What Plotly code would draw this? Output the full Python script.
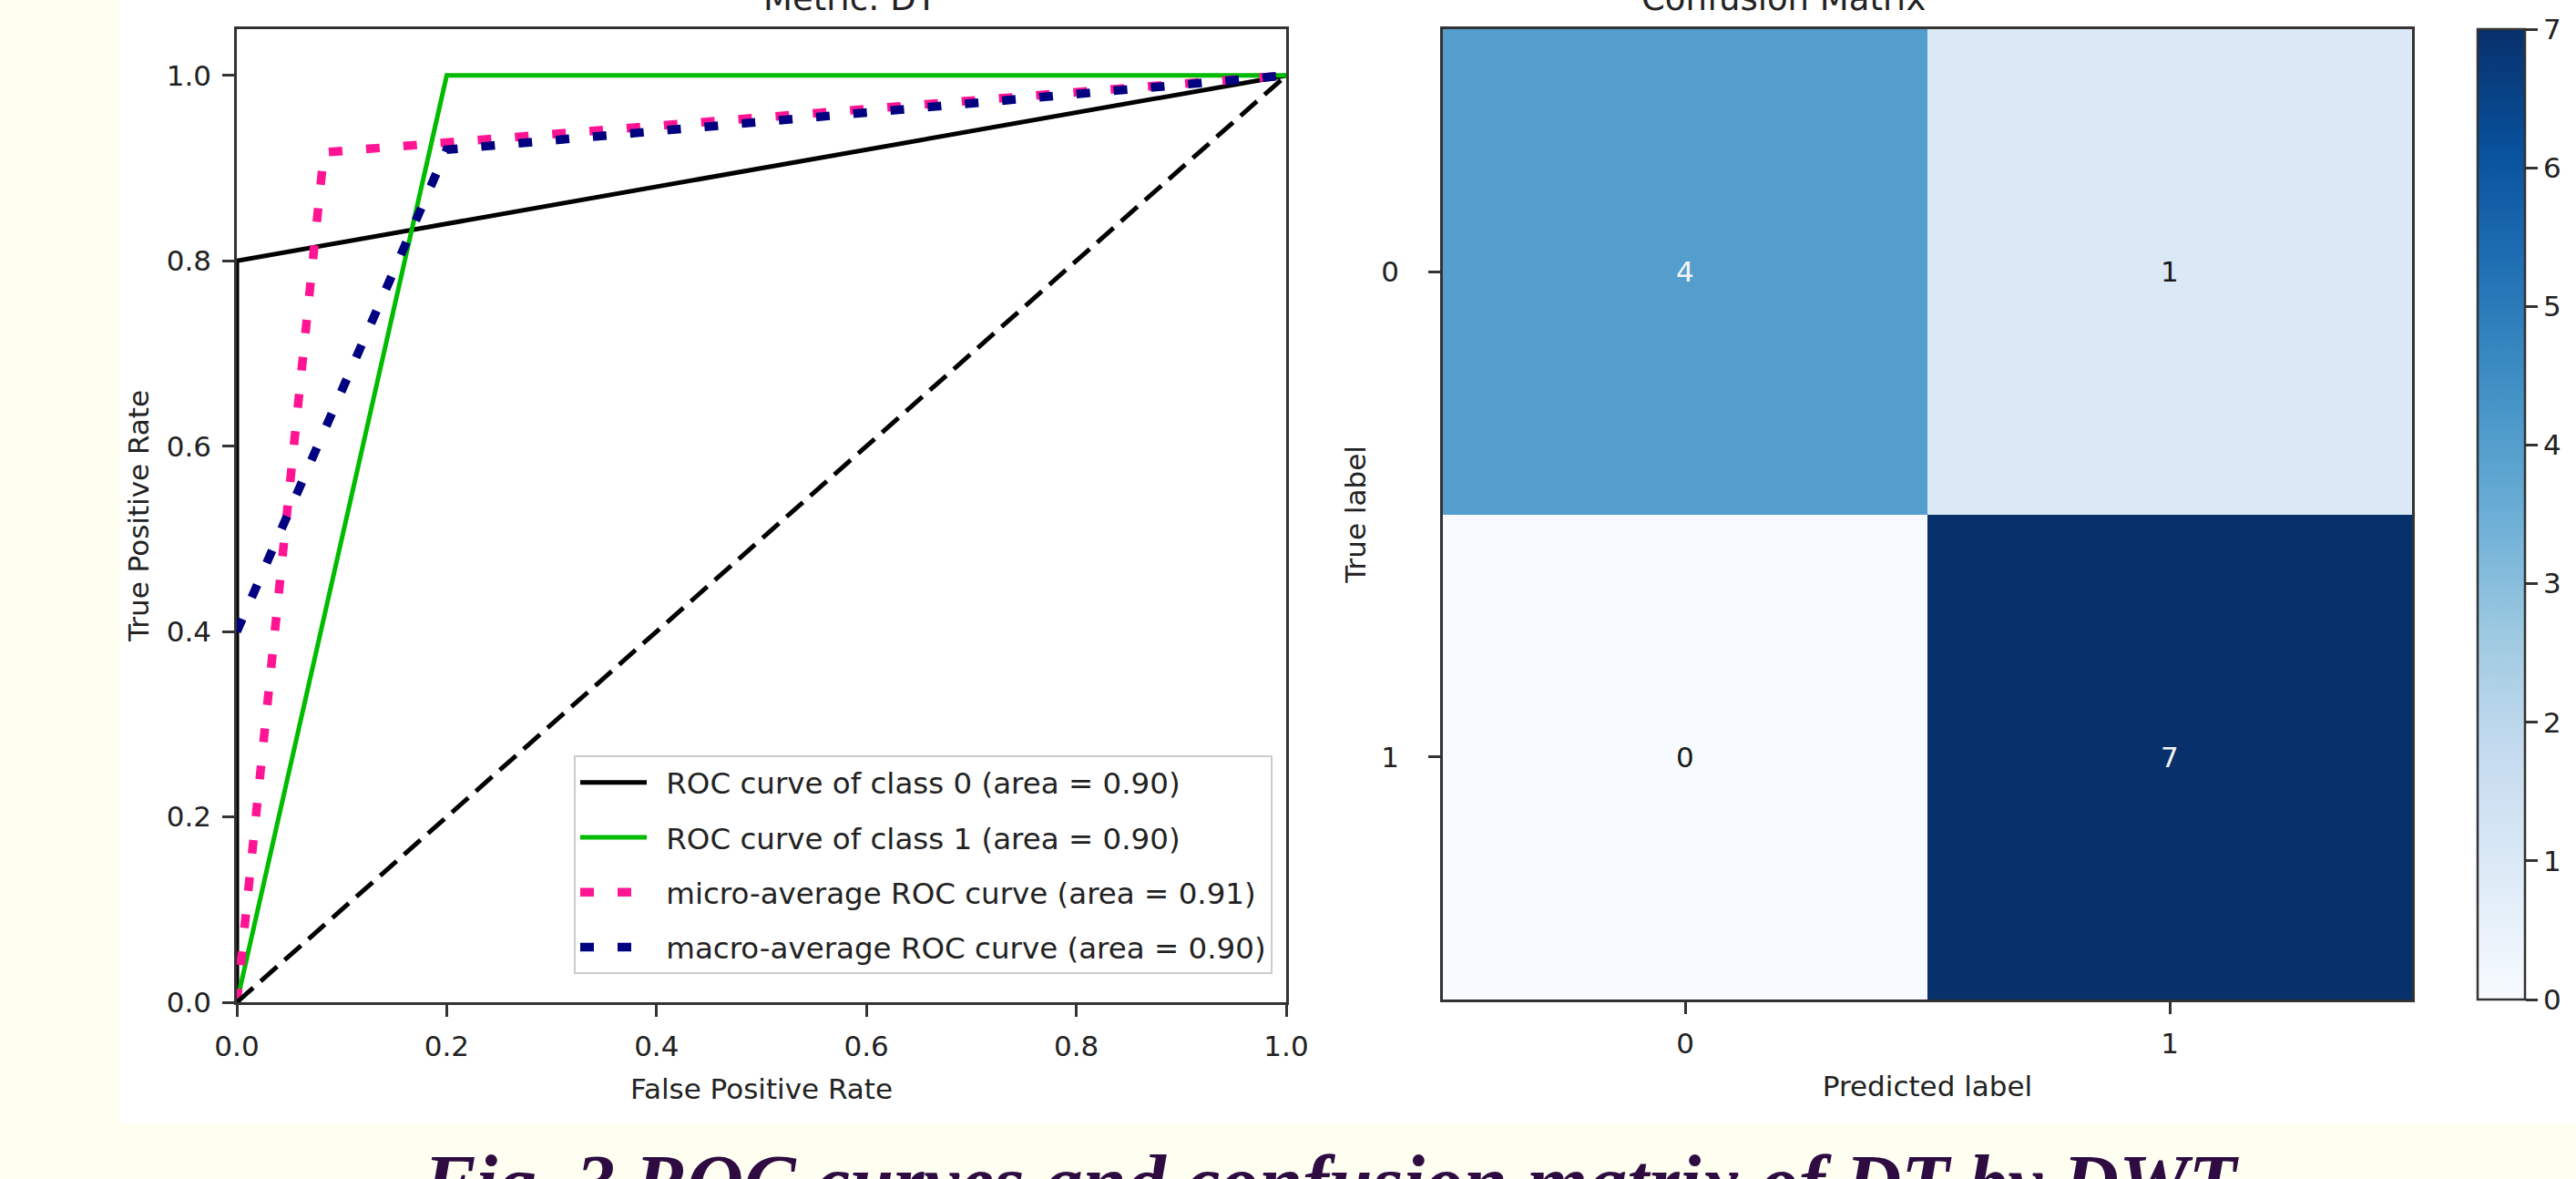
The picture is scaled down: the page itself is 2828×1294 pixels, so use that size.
import plotly.graph_objects as go

# ---------------- data ----------------
fpr_class0 = [0.0, 0.0, 1.0]
tpr_class0 = [0.0, 0.8, 1.0]
fpr_class1 = [0.0, 0.2, 1.0]
tpr_class1 = [0.0, 1.0, 1.0]
fpr_micro = [0.0, 0.083, 1.0]
tpr_micro = [0.0, 0.917, 1.0]
fpr_macro = [0.0, 0.2, 1.0]
tpr_macro = [0.4, 0.92, 1.0]
chance_x = [0.0, 1.0]
chance_y = [0.0, 1.0]

legend_names = [
    "ROC curve of class 0 (area = 0.90)",
    "ROC curve of class 1 (area = 0.90)",
    "micro-average ROC curve (area = 0.91)",
    "macro-average ROC curve (area = 0.90)",
]

roc_ticks = [0.0, 0.2, 0.4, 0.6, 0.8, 1.0]
roc_ticktext = ["0.0", "0.2", "0.4", "0.6", "0.8", "1.0"]

cm_values = [[4, 1], [0, 7]]
cm_labels = ["0", "1"]
cb_ticks = [0, 1, 2, 3, 4, 5, 6, 7]

# ---------------- geometry helpers ----------------
W, H = 2828, 1294
CREAM = "#fefef1"
GAP = "\u2002"  # small gap between legend symbol and its text


def px(x):
    return x / W


def py(y):
    return 1 - y / H


TICK_FONT = dict(family="DejaVu Sans", size=31, color="#222222")
LABEL_FONT = dict(family="DejaVu Sans", size=31, color="#222222")
LINE_C = "#333333"

blues = [
    [0.000, "#f7fbff"], [0.125, "#deebf7"], [0.250, "#c6dbef"],
    [0.375, "#9ecae1"], [0.500, "#6baed6"], [0.625, "#4292c6"],
    [0.750, "#2171b5"], [0.875, "#08519c"], [1.000, "#08306b"],
]

fig = go.Figure()

# ROC curves
fig.add_trace(go.Scatter(x=fpr_class0, y=tpr_class0, mode="lines", name=GAP + legend_names[0],
                         legendgroup="a", line=dict(color="#000000", width=5)))
fig.add_trace(go.Scatter(x=fpr_class1, y=tpr_class1, mode="lines", name=GAP + legend_names[1],
                         legendgroup="b", line=dict(color="#00bb00", width=5)))
fig.add_trace(go.Scatter(x=fpr_micro, y=tpr_micro, mode="lines", name=GAP + legend_names[2],
                         legendgroup="c", line=dict(color="deeppink", width=9.5, dash="15px,26px")))
fig.add_trace(go.Scatter(x=fpr_macro, y=tpr_macro, mode="lines", name=GAP + legend_names[3],
                         legendgroup="d", line=dict(color="navy", width=9.5, dash="15px,26px")))
fig.add_trace(go.Scatter(x=chance_x, y=chance_y, mode="lines", showlegend=False,
                         line=dict(color="#000000", width=5, dash="24px,11px")))

# Confusion matrix
fig.add_trace(go.Heatmap(
    z=cm_values, x=[0, 1], y=[0, 1], xaxis="x2", yaxis="y2",
    colorscale=blues, zmin=0, zmax=7, showscale=True, hoverinfo="z",
    colorbar=dict(
        x=px(2720), xanchor="left", xpad=0, ypad=0,
        y=py((32 + 1097) / 2), yanchor="middle",
        len=(1097 - 32) / H, lenmode="fraction",
        thickness=52, thicknessmode="pixels",
        outlinewidth=2.5, outlinecolor=LINE_C,
        ticks="outside", ticklen=13, tickwidth=2.5, tickcolor=LINE_C,
        tickvals=cb_ticks, tickfont=TICK_FONT,
    ),
))

annotations = []
for i, row in enumerate(cm_values):
    for j, v in enumerate(row):
        annotations.append(dict(
            x=j, y=i, xref="x2", yref="y2", text=str(v), showarrow=False,
            font=dict(family="DejaVu Sans", size=31,
                      color="#f5f5f5" if v > 3.5 else "#1a1a1a"),
        ))

# subplot titles (cut at top like the reference)
annotations.append(dict(x=px(836), y=py(-1), xref="paper", yref="paper", text="Metric: DT",
                        showarrow=False, yanchor="middle",
                        font=dict(family="DejaVu Sans", size=37, color="#222222")))
annotations.append(dict(x=px(2116), y=py(-1), xref="paper", yref="paper", text="Confusion Matrix",
                        showarrow=False, yanchor="middle",
                        font=dict(family="DejaVu Sans", size=37, color="#222222")))
# figure caption
annotations.append(dict(x=px(1461), y=py(1298), xref="paper", yref="paper",
                        text="Fig. 3 ROC curves and confusion matrix of DT by DWT",
                        showarrow=False, yanchor="middle",
                        font=dict(family="Liberation Serif", size=86, color="#2e0b40",
                                  weight="bold", style="italic")))

axis_common = dict(showgrid=False, zeroline=False, showline=True, mirror=True,
                   linecolor=LINE_C, linewidth=2.5, ticks="outside", ticklen=13,
                   tickwidth=2.5, tickcolor=LINE_C, tickfont=TICK_FONT,
                   automargin=False)

fig.update_layout(
    width=W, height=H,
    margin=dict(l=0, r=0, t=0, b=0, pad=0, autoexpand=False),
    paper_bgcolor=CREAM,
    plot_bgcolor="#ffffff",
    showlegend=True,
    xaxis=dict(domain=[px(260), px(1412)], range=[0, 1], tickvals=roc_ticks,
               ticktext=roc_ticktext, anchor="y", ticklabelstandoff=6,
               title=dict(text="False Positive Rate", standoff=20, font=LABEL_FONT),
               **axis_common),
    yaxis=dict(domain=[py(1100), py(32)], range=[0, 1.05], tickvals=roc_ticks,
               ticktext=roc_ticktext, anchor="x", ticklabelstandoff=6,
               title=dict(text="True Positive Rate", standoff=10, font=LABEL_FONT),
               **axis_common),
    xaxis2=dict(domain=[px(1584), px(2648)], range=[-0.5, 1.5], tickvals=[0, 1],
                ticktext=cm_labels, anchor="y2", ticklabelstandoff=6,
                title=dict(text="Predicted label", standoff=20, font=LABEL_FONT),
                **axis_common),
    yaxis2=dict(domain=[py(1097), py(32)], range=[1.5, -0.5], tickvals=[0, 1],
                ticktext=cm_labels, anchor="x2", ticklabelstandoff=26,
                title=dict(text="True label", standoff=8, font=LABEL_FONT),
                **axis_common),
    legend=dict(x=px(1397), xanchor="right", y=py(829), yanchor="top",
                bgcolor="rgba(255,255,255,0.85)", bordercolor="#cccccc", borderwidth=2,
                font=dict(family="DejaVu Sans", size=32.5, color="#222222"),
                traceorder="grouped", tracegroupgap=15, itemwidth=73),
    shapes=[dict(type="rect", xref="paper", yref="paper", x0=px(132), x1=1,
                 y0=py(1233), y1=1, fillcolor="#ffffff", line=dict(width=0), layer="below")],
    annotations=annotations,
)

fig.write_html(
    "out.html",
    config={"displayModeBar": False},
    post_script=("document.body.style.margin='0';"
                 "document.body.style.overflow='hidden';"
                 "document.body.style.background='" + CREAM + "';"),
)
